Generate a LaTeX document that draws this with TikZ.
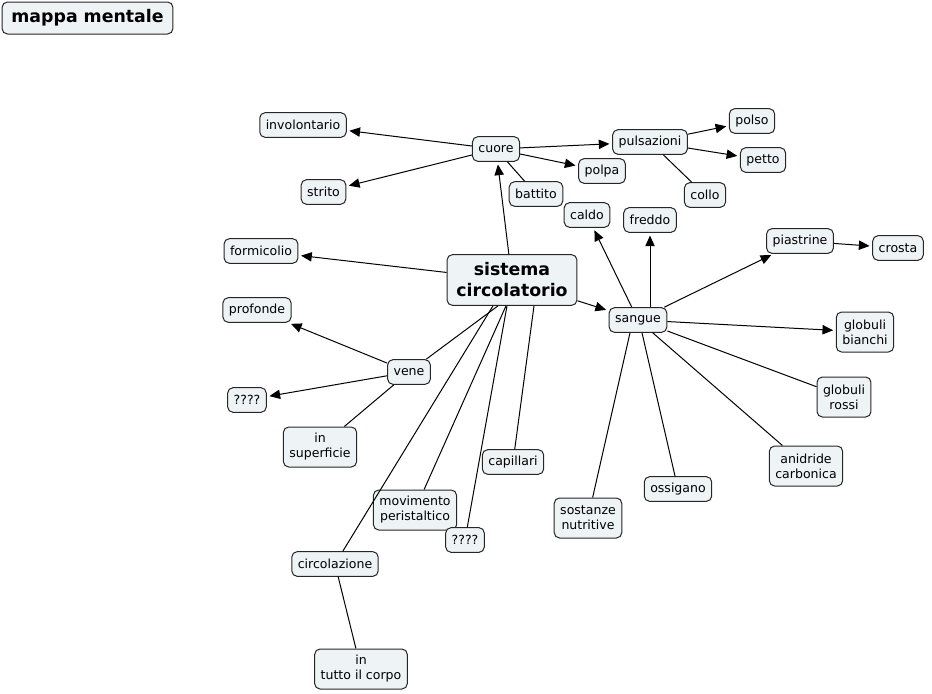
\documentclass[tikz,border=0pt]{standalone}
\usepackage{fontspec}
\setmainfont{DejaVu Sans}
\usetikzlibrary{arrows.meta}
\definecolor{conceptfill}{RGB}{238,243,246}
\begin{document}
\begin{tikzpicture}[x=.75pt,y=-.75pt,
  concept/.style={draw=black!85,fill=conceptfill,rounded corners=4pt,line width=.75pt,
    font=\fontsize{9.4pt}{11.25pt}\selectfont,align=center,
    inner xsep=4.5pt,inner ysep=2pt,minimum height=18.5pt},
  twoline/.style={concept,minimum height=30pt},
  topic/.style={concept,font=\fontsize{13pt}{15.75pt}\selectfont\bfseries,inner xsep=7pt},
  link/.style={line width=.75pt},
  linkto/.style={link,-{Triangle[length=8pt,width=7pt]},shorten >=2pt}]
\useasboundingbox (0,0) rectangle (932,693);
\node[topic,minimum height=24pt] (mappa) at (87.5,18) {mappa mentale};
\node[topic,minimum height=38pt] (sistema) at (512,280) {sistema\\circolatorio};
\node[concept] (cuore) at (496,149) {cuore};
\node[concept] (involontario) at (303,125) {involontario};
\node[concept] (strito) at (323.5,192) {strito};
\node[concept] (battito) at (536,194) {battito};
\node[concept] (polpa) at (602,171) {polpa};
\node[concept] (caldo) at (587,215) {caldo};
\node[concept] (pulsazioni) at (650,142) {pulsazioni};
\node[concept] (polso) at (752,121) {polso};
\node[concept] (petto) at (763,160) {petto};
\node[concept] (collo) at (705,195) {collo};
\node[concept] (freddo) at (650,220) {freddo};
\node[concept] (sangue) at (638,320) {sangue};
\node[concept] (piastrine) at (800,241) {piastrine};
\node[concept] (crosta) at (898,248) {crosta};
\node[twoline] (bianchi) at (865,332) {globuli\\bianchi};
\node[twoline] (rossi) at (844,397) {globuli\\rossi};
\node[concept] (formicolio) at (261,251) {formicolio};
\node[concept] (profonde) at (257,310) {profonde};
\node[concept] (vene) at (409,372) {vene};
\node[concept] (dubbiovene) at (247,400) {????};
\node[twoline] (superficie) at (320,447) {in\\superficie};
\node[concept] (capillari) at (513,462) {capillari};
\node[twoline] (movimento) at (415,510) {movimento\\peristaltico};
\node[concept] (dubbiobasso) at (465,540) {????};
\node[concept] (circolazione) at (335,564) {circolazione};
\node[twoline] (corpo) at (361,669) {in\\tutto il corpo};
\node[twoline] (nutritive) at (588,518) {sostanze\\nutritive};
\node[concept] (ossigano) at (678,489) {ossigano};
\node[twoline] (anidride) at (806,466) {anidride\\carbonica};
% cuore
\draw[linkto] (sistema) -- (cuore);
\draw[linkto] (cuore) -- (involontario);
\draw[linkto] (cuore) -- (strito);
\draw[linkto] (cuore) -- (pulsazioni);
\draw[linkto] (cuore) -- (polpa);
\draw[link] (cuore) -- (battito);
\draw[linkto] (pulsazioni) -- (polso);
\draw[linkto] (pulsazioni) -- (petto);
\draw[link] (pulsazioni) -- (collo);
% sangue
\draw[linkto] (sistema) -- (formicolio);
\draw[linkto] (sistema) -- (sangue);
\draw[linkto] (sangue) -- (caldo);
\draw[linkto] (sangue.north -| freddo) -- (freddo);
\draw[linkto] (sangue) -- (piastrine);
\draw[linkto] (piastrine) -- (crosta);
\draw[linkto] (sangue) -- (bianchi);
\draw[link] (sangue) -- (rossi);
\draw[link] (sangue) -- (anidride);
\draw[link] ([xshift=3pt]sangue.south) -- (ossigano);
\draw[link] ([xshift=-6pt]sangue.south) -- (nutritive);
% vene e il resto
\draw[link] ([xshift=-10.5pt]sistema.south) -- (vene);
\draw[linkto] (vene) -- (profonde);
\draw[linkto] (vene) -- (dubbiovene);
\draw[link] (vene) -- (superficie);
\draw[link] ([xshift=16.5pt]sistema.south) -- (capillari);
\draw[link] ([xshift=-4.5pt]sistema.south) -- (movimento);
\draw[link] ([xshift=-3.75pt]sistema.south) -- (dubbiobasso);
\draw[link] ([xshift=-14.25pt]sistema.south) -- (circolazione);
\draw[link] (circolazione) -- (corpo);
\end{tikzpicture}
\end{document}
